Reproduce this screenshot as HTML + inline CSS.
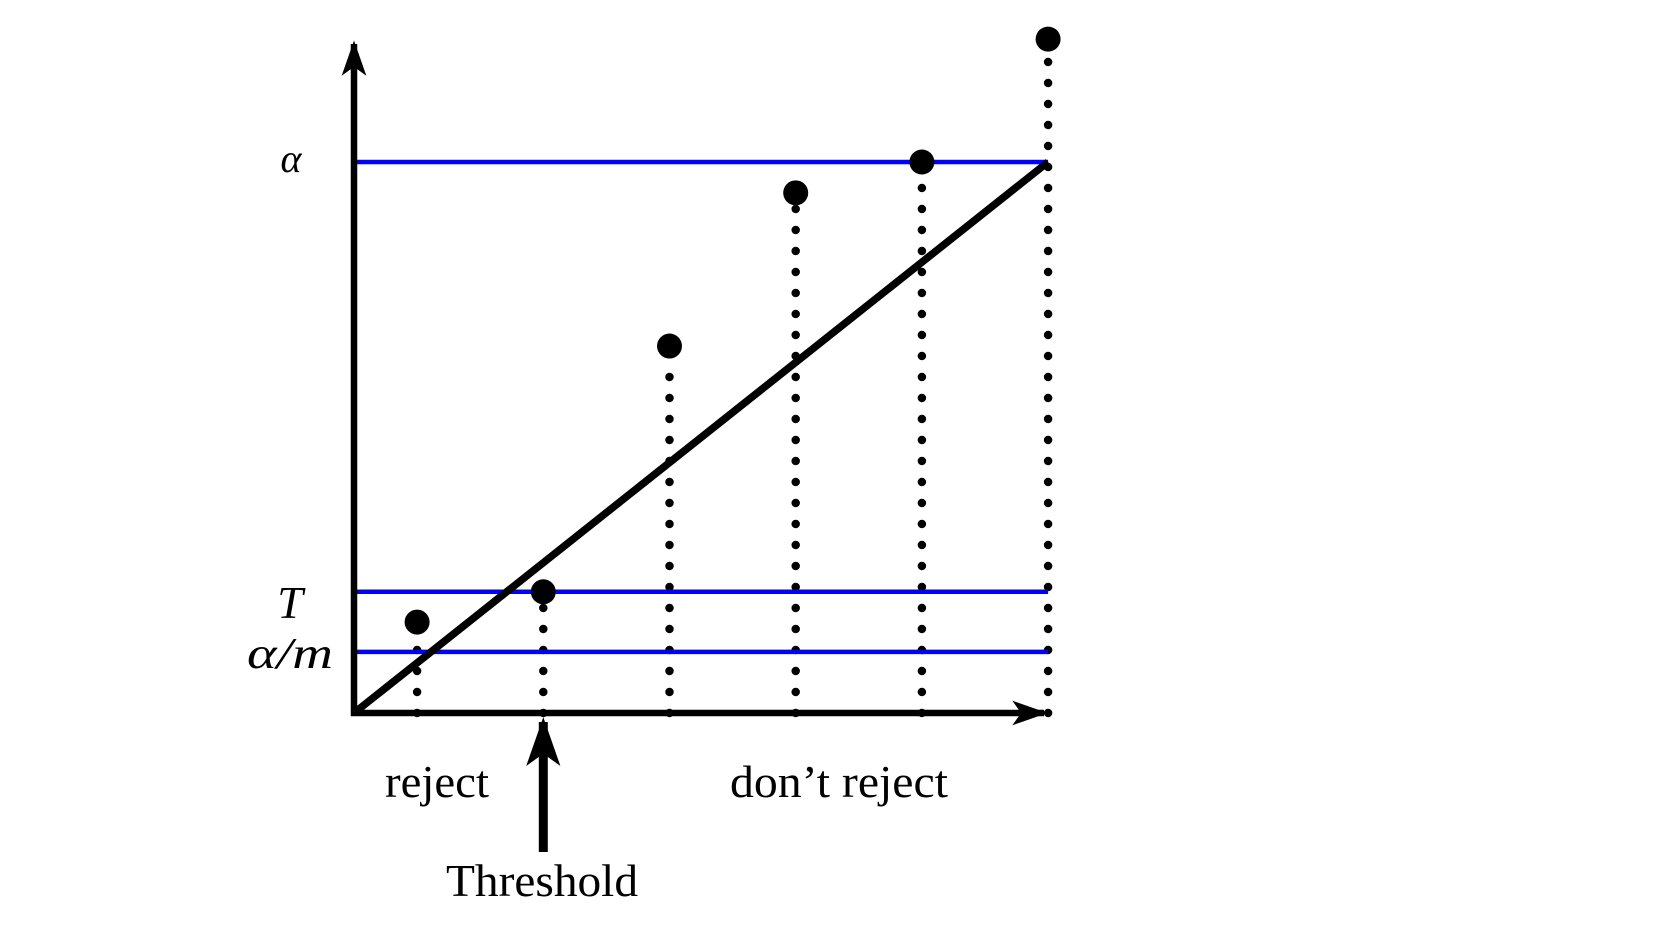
<!DOCTYPE html>
<html><head><meta charset="utf-8"><style>
html,body{margin:0;padding:0;background:#fff;}
svg{display:block;}
text{font-family:"Liberation Serif",serif;fill:#000;}
</style></head><body>
<svg id="chart" width="1658" height="926" viewBox="0 0 1658 926" xmlns="http://www.w3.org/2000/svg">
<defs>
<marker id="ah" viewBox="0 0 20 14" refX="18" refY="7" markerWidth="5.5" markerHeight="3.8" orient="auto" markerUnits="strokeWidth">
<path d="M0,0 L20,7 L0,14 L5,7 Z" fill="#000"/>
</marker>
</defs>
<g id="plot"></g>
<text x="291" y="172" font-size="40" font-style="italic" text-anchor="middle">α</text>
<text x="290" y="618" font-size="46" font-style="italic" text-anchor="middle">T</text>
<text x="290" y="668" font-size="44" font-style="italic" text-anchor="middle" textLength="86" lengthAdjust="spacingAndGlyphs">α/m</text>
<text x="437" y="797" font-size="45" text-anchor="middle" textLength="104" lengthAdjust="spacingAndGlyphs">reject</text>
<text x="839" y="797" font-size="45" text-anchor="middle" textLength="218" lengthAdjust="spacingAndGlyphs">don’t reject</text>
<text x="542" y="896" font-size="46" text-anchor="middle" textLength="192" lengthAdjust="spacingAndGlyphs">Threshold</text>
</svg>
<script>
const pIndex = [0.5, 1.5, 2.5, 3.5, 4.5, 5.5];
const pValues = [0.165, 0.22, 0.666, 0.944, 1.0, 1.223];
const refLevels = [1.0, 0.22, 0.111];
const refNames = ['alpha-line', 't-line', 'alpha-over-m-line'];
const lineEnd = [5.5, 1.0];

const X0 = 354, XS = 126.2, Y0 = 713, YS = 551;
const sx = v => X0 + v * XS;
const sy = v => Y0 - v * YS;
const NS = 'http://www.w3.org/2000/svg';
const g = document.getElementById('plot');
function mk(tag, attrs) {
  const e = document.createElementNS(NS, tag);
  for (const k in attrs) e.setAttribute(k, attrs[k]);
  g.appendChild(e);
  return e;
}
pValues.forEach((v, i) => {
  const e = mk('line', {x1: sx(pIndex[i]), y1: Y0, x2: sx(pIndex[i]), y2: sy(v) + 14, stroke: '#000', 'stroke-width': 8.5, 'stroke-linecap': 'round', 'stroke-dasharray': '0 21'});
  
  
});
refLevels.forEach((v, i) => {
  const e = mk('line', {x1: X0, y1: sy(v), x2: sx(5.5), y2: sy(v), stroke: '#0000ff', 'stroke-width': 4.5});
  
  
});
const d = mk('line', {x1: X0, y1: Y0, x2: sx(lineEnd[0]), y2: sy(lineEnd[1]), stroke: '#000', 'stroke-width': 7.5});


const ya = mk('line', {x1: X0, y1: Y0 + 3, x2: X0, y2: 44, stroke: '#000', 'stroke-width': 6.5, 'marker-end': 'url(#ah)'});


const xa = mk('line', {x1: X0 - 3, y1: Y0, x2: 1044, y2: Y0, stroke: '#000', 'stroke-width': 6.5, 'marker-end': 'url(#ah)'});


pValues.forEach((v, i) => {
  const c = mk('circle', {cx: sx(pIndex[i]), cy: sy(v), r: 12.5, fill: '#000'});
  
  
});
const ta = mk('line', {x1: sx(pIndex[1]), y1: 852, x2: sx(pIndex[1]), y2: 722, stroke: '#000', 'stroke-width': 9, 'marker-end': 'url(#ah)'});


</script>
</body></html>
